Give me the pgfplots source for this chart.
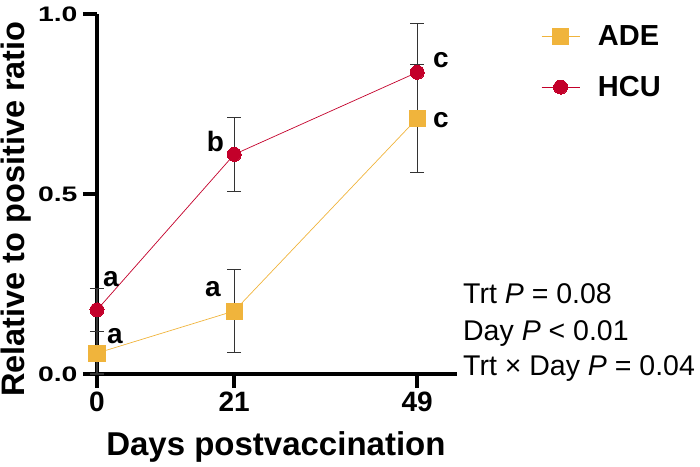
\documentclass[border=0pt]{standalone}
\usepackage{pgfplots}
\pgfplotsset{compat=1.18}
\usepackage{fontspec}
\setmainfont{Liberation Sans}
\usepackage{graphicx}
\definecolor{ade}{HTML}{F0B43C}
\definecolor{hcu}{HTML}{C3002A}
\begin{document}
\begin{tikzpicture}
\path[use as bounding box] (-97pt,-92pt) rectangle (603pt,374pt);
\begin{axis}[
 at={(0pt,0pt)}, anchor=south west,
 scale only axis, width=360pt, height=360pt,
 xmin=0, xmax=55.09, ymin=0, ymax=1,
 axis x line*=bottom, axis y line*=left,
 axis line style={line width=3.5pt, -},
 clip=false,
 xtick={0,21,49}, ytick={0,0.5,1},
 tick align=outside, major tick length=14pt,
 tick style={line width=3.5pt, black},
 /pgf/number format/assume math mode=true,
 xticklabel style={font=\fontsize{28}{28}\selectfont\bfseries},
 yticklabel={\scalebox{1.35}[1]{\pgfmathprintnumber[fixed,fixed zerofill,precision=1]{\tick}}},
 yticklabel style={font=\fontsize{21}{21}\selectfont\bfseries, xshift=-2pt},
 xlabel={Days postvaccination},
 ylabel={Relative to positive ratio},
 xlabel style={font=\fontsize{33}{33}\selectfont\bfseries, at={(axis description cs:0.497,-0.225)}, anchor=base},
 ylabel style={font=\fontsize{32.5}{32.5}\selectfont\bfseries, at={(axis description cs:-0.2,0.458)}, anchor=base},
 legend style={at={(axis description cs:1.225,0.867)}, anchor=west, draw=none, fill=none,
   font=\fontsize{29}{29}\selectfont\bfseries, nodes={inner sep=0pt}, row sep=29pt,
   /tikz/every odd column/.append style={column sep=18pt}},
 legend cell align=left,
 legend image code/.code={\draw[mark repeat=2, mark phase=2, #1] plot coordinates {(0pt,0pt) (19pt,0pt) (38pt,0pt)};},
]
\addplot[color=ade, line width=0.7pt, mark=square*, mark size=8pt,
  mark options={fill=ade, draw=ade, line width=0pt},
  error bars/.cd, y dir=both, y explicit,
  error bar style={line width=1.3pt, black!80},
  error mark options={rotate=90, mark size=7pt, line width=1.3pt, black!80}]
  coordinates {(0,0.058) += (0,0.06) -= (0,0.058) (21,0.175) +- (0,0.115) (49,0.71) +- (0,0.15)};
\addlegendentry{ADE}
\addplot[color=hcu, line width=0.7pt, mark=*, mark size=7pt,
  mark options={fill=hcu, draw=hcu, line width=0pt},
  error bars/.cd, y dir=both, y explicit,
  error bar style={line width=1.3pt, black!80},
  error mark options={rotate=90, mark size=7pt, line width=1.3pt, black!80}]
  coordinates {(0,0.178) +- (0,0.06) (21,0.61) +- (0,0.103) (49,0.838) +- (0,0.135)};
\addlegendentry{HCU}
\begin{scope}[every node/.style={anchor=base west, inner sep=0pt, font=\fontsize{28}{28}\selectfont\bfseries}]
\node at (axis cs:0.92,0.242) {a};
\node at (axis cs:1.53,0.086) {a};
\node at (axis cs:16.5,0.214) {a};
\node at (axis cs:16.8,0.617) {b};
\node at (axis cs:51.4,0.85) {c};
\node at (axis cs:51.4,0.686) {c};
\end{scope}
\begin{scope}[every node/.style={anchor=base west, inner sep=0pt, font=\fontsize{28.5}{28.5}\selectfont}]
\node at (axis cs:56.0,0.197) {Trt \textit{P} = 0.08};
\node at (axis cs:56.0,0.094) {Day \textit{P} < 0.01};
\node at (axis cs:56.0,-0.003) {Trt × Day \textit{P} = 0.04};
\end{scope}
\end{axis}
\end{tikzpicture}
\end{document}
